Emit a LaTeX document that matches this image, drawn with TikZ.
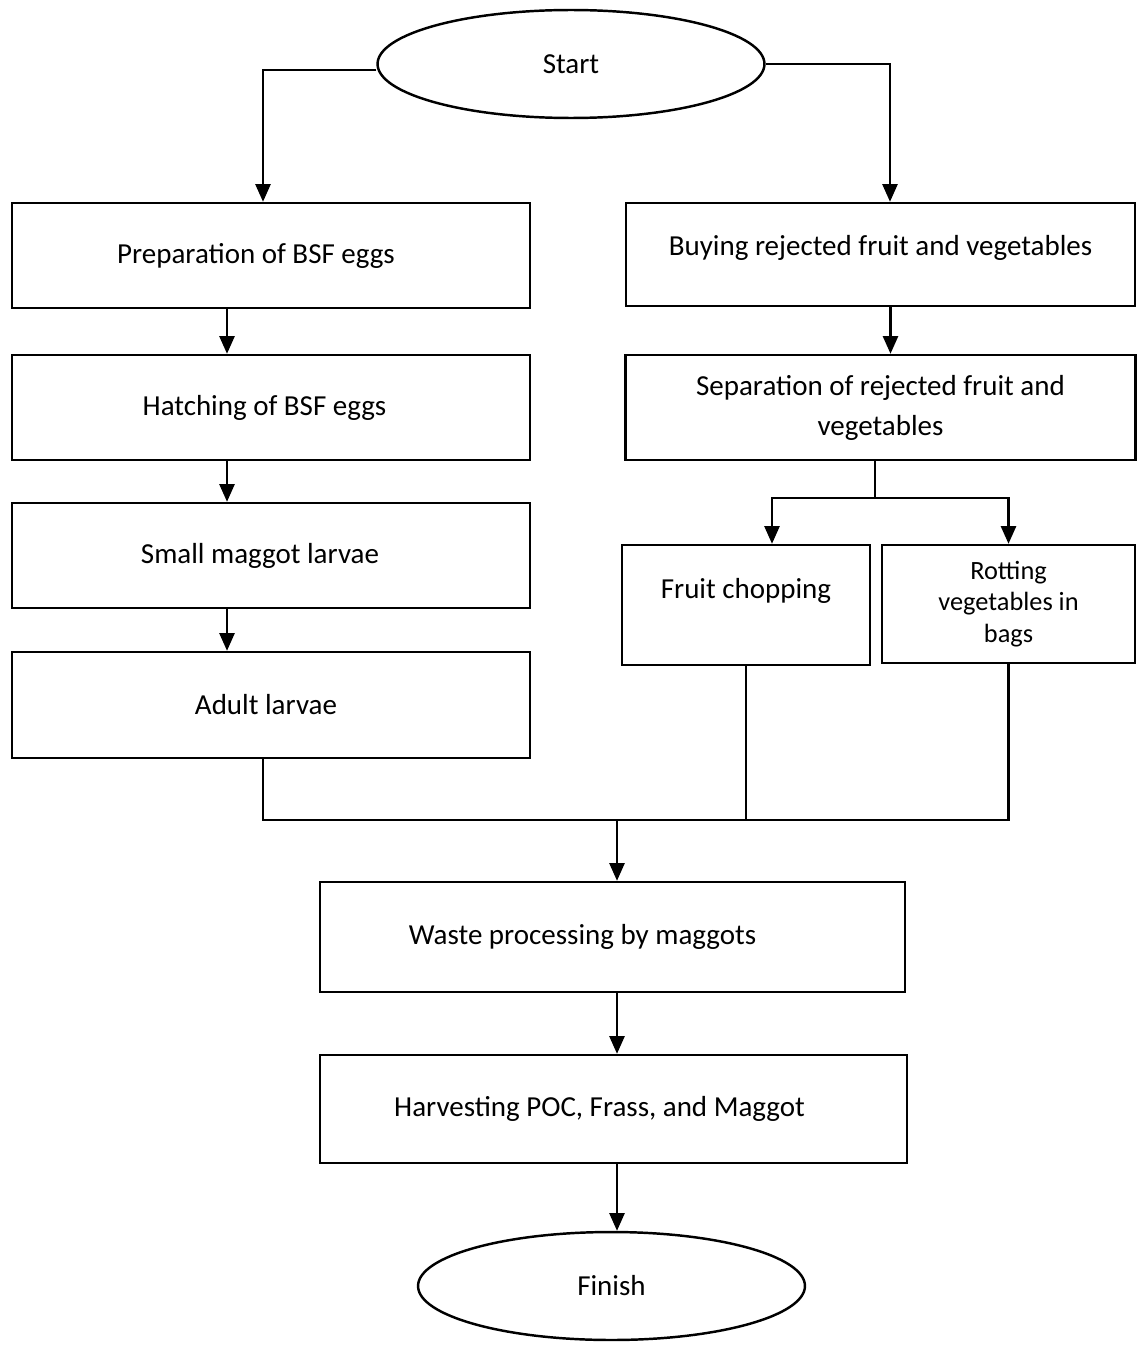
\documentclass[tikz,border=0pt]{standalone}
\usepackage{fontspec}
\setmainfont{Carlito}
\usetikzlibrary{arrows.meta,positioning,shapes.geometric}
\tikzset{
  >={Triangle[length=10pt,width=8.5pt]},
  stepbox/.style={draw, line width=1.4pt, align=center, inner sep=2pt, font=\fontsize{16.5}{22.7}\selectfont},
  term/.style={ellipse, draw, line width=1.4pt, minimum width=7.74cm, minimum height=2.16cm, inner sep=0pt, font=\fontsize{16.5}{20}\selectfont},
  flow/.style={->, line width=1.4pt},
  link/.style={line width=1.4pt}
}

\begin{document}
\begin{tikzpicture}[x=0.02cm,y=-0.02cm]
  \useasboundingbox (0,0) rectangle (1137,1345);

  % terminals
  \node[term] (start) at (571,64) {Start};
  \node[term] (finish) at (611.5,1286) {Finish};

  % left branch
  \node[stepbox,minimum width=10.36cm,minimum height=2.1cm] (prep) at (271,255.5) {Preparation of BSF eggs\hspace*{0.6cm}};
  \node[stepbox,minimum width=10.36cm,minimum height=2.1cm] (hatch) at (271,407.5) {Hatching of BSF eggs\hspace*{0.26cm}};
  \node[stepbox,minimum width=10.36cm,minimum height=2.1cm] (small) at (271,555.5) {Small maggot larvae\hspace*{0.44cm}};
  \node[stepbox,minimum width=10.36cm,minimum height=2.12cm] (adult) at (271,705) {Adult larvae\hspace*{0.2cm}};

  % right branch
  \node[stepbox,minimum width=10.18cm,minimum height=2.06cm] (buy) at (880.5,254.5) {Buying rejected fruit and vegetables\\[-12pt]\mbox{}};
  \node[stepbox,minimum width=10.2cm,minimum height=2.1cm] (sep) at (880.5,407.5) {Separation of rejected fruit and\\vegetables};
  \node[stepbox,minimum width=4.96cm,minimum height=2.4cm,font=\fontsize{16.5}{19.4}\selectfont] (fruit) at (746,605) {Fruit chopping\\\mbox{}};
  \node[stepbox,minimum width=5.06cm,minimum height=2.36cm,font=\fontsize{15}{18}\selectfont] (rot) at (1008.5,604) {Rotting\\vegetables in\\bags};

  % lower part
  \node[stepbox,minimum width=11.7cm,minimum height=2.2cm] (waste) at (612.5,937) {Waste processing by maggots\hspace*{1.2cm}};
  \node[stepbox,minimum width=11.74cm,minimum height=2.16cm] (harvest) at (613.5,1109) {Harvesting POC, Frass, and Maggot\hspace*{0.56cm}};

  \coordinate (split) at (875,498);
  \coordinate (bus) at (617,820);

  % connectors
  \draw[flow] ([yshift=-0.12cm]start.west) -| ([xshift=-0.16cm]prep.north);
  \draw[flow] (start.east) -| ([xshift=0.19cm]buy.north);
  \draw[flow] ([xshift=-0.88cm]prep.south) -- ([xshift=-0.88cm]hatch.north);
  \draw[flow] ([xshift=-0.88cm]hatch.south) -- ([xshift=-0.88cm]small.north);
  \draw[flow] ([xshift=-0.88cm]small.south) -- ([xshift=-0.88cm]adult.north);
  \draw[flow] ([xshift=0.2cm]buy.south) -- ([xshift=0.2cm]sep.north);
  \draw[link] (sep.south -| split) -- (split);
  \draw[flow] (split) -| ([xshift=0.52cm]fruit.north);
  \draw[flow] (split) -| (rot.north);
  \draw[link] ([xshift=-0.16cm]adult.south) |- (rot.south |- bus) -- (rot.south);
  \draw[link] (fruit.south) -- (fruit.south |- bus);
  \draw[flow] (bus) -- (bus |- waste.north);
  \draw[flow] (bus |- waste.south) -- (bus |- harvest.north);
  \draw[flow] (bus |- harvest.south) -- (bus |- finish.north);
\end{tikzpicture}
\end{document}
